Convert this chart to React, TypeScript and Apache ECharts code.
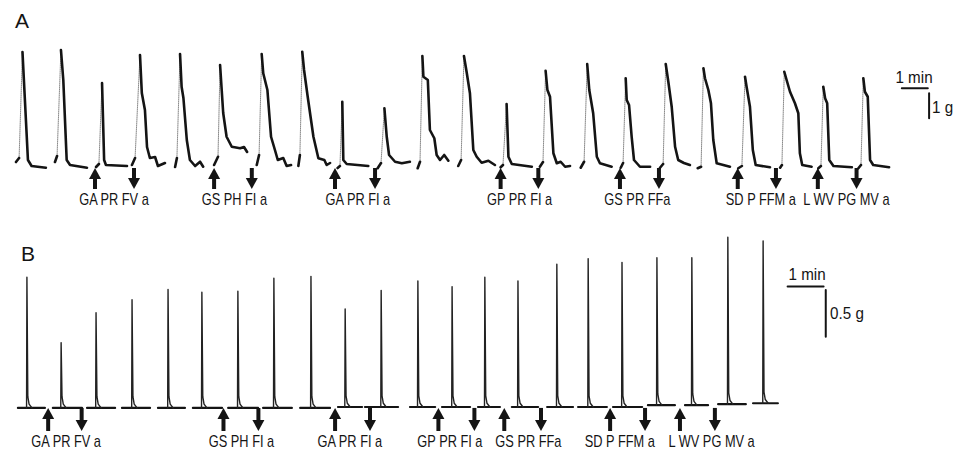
import React, { useEffect, useRef } from "react";
import * as echarts from "echarts";

// ---------- Panel A (1 g, 1 min scale) : each contraction = onset, hook, peak, decay points [min, g]
const contractionsA: number[][][] = [
  [[0.23, 0.16], [0.35, 0.32], [0.48, 4.56], [0.69, 0.24], [0.83, 0], [1.38, -0.07]],
  [[1.73, 0.16], [1.81, 0.4], [1.96, 4.64], [2.05, 3.44], [2.18, 0.24], [2.31, 0.04], [2.96, -0.07]],
  [[3.31, -0.04], [3.42, 0.08], [3.54, 3.32], [3.62, 0.24], [3.69, 0.04], [4.5, 0]],
  [[4.69, 0.04], [4.81, 0.32], [5.0, 4.44], [5.07, 2.92], [5.19, 2.24], [5.27, 0.76], [5.38, 0.32], [5.58, 0.36], [5.69, 0], [5.96, 0.12]],
  [[6.35, -0.04], [6.42, 0.32], [6.54, 4.48], [6.6, 3.17], [6.67, 2.72], [6.8, 1.04], [6.92, 0.24], [7.12, 0], [7.31, 0.17], [7.43, -0.03]],
  [[7.85, 0.04], [8.0, 0.37], [8.08, 4.04], [8.1, 3.72], [8.2, 2.12], [8.33, 1.17], [8.53, 0.77], [8.85, 0.71], [9.0, 0.76], [9.12, 0.56]],
  [[9.49, 0.04], [9.58, 0.44], [9.68, 4.48], [9.74, 3.71], [9.9, 3.04], [10.04, 1.17], [10.19, 0.64], [10.3, 0.24], [10.51, 0.32], [10.64, 0], [10.81, 0.04]],
  [[11.09, 0], [11.15, 0.44], [11.24, 4.57], [11.31, 3.84], [11.45, 2.77], [11.67, 1.17], [11.86, 0.31], [12.09, 0.24], [12.18, 0.04], [12.31, 0.12]],
  [[12.6, -0.08], [12.69, 0], [12.78, 2.57], [12.82, 0.24], [12.95, 0.08], [13.78, 0]],
  [[14.14, -0.09], [14.27, 0.12], [14.4, 2.31], [14.49, 1.17], [14.58, 0.44], [14.81, 0.17], [15.07, 0.11], [15.38, 0.17]],
  [[15.68, -0.09], [15.77, 0.17], [15.86, 4.4], [15.9, 3.57], [16.07, 3.44], [16.15, 1.44], [16.32, 1.11], [16.41, 0.44], [16.54, 0.24], [16.7, 0.44], [16.86, 0.21]],
  [[17.24, 0], [17.35, 0.24], [17.46, 4.4], [17.57, 3.71], [17.69, 2.91], [17.82, 0.64], [17.95, 0.37], [18.14, 0.13], [18.4, 0.21], [18.65, 0.04]],
  [[18.87, -0.05], [18.96, 0.04], [19.1, 2.48], [19.17, 0.37], [19.3, 0.08], [20.07, -0.03]],
  [[20.38, -0.03], [20.5, 0.16], [20.6, 3.81], [20.67, 3.04], [20.77, 2.77], [20.9, 0.51], [21.03, 0.11], [21.18, 0.17], [21.35, -0.03], [21.54, 0]],
  [[21.95, -0.07], [22.08, 0.17], [22.2, 4.08], [22.28, 3.04], [22.43, 2.11], [22.57, 0.37], [22.69, 0.11], [23.14, -0.03]],
  [[23.49, -0.07], [23.58, 0.12], [23.68, 3.51], [23.72, 2.64], [23.81, 2.44], [23.91, 1.17], [24.0, 0.24], [24.23, -0.03], [24.62, -0.03]],
  [[25.0, -0.07], [25.12, 0.08], [25.22, 4.08], [25.32, 3.37], [25.45, 2.37], [25.58, 0.77], [25.7, 0.24], [25.92, 0.12], [26.15, 0.04]],
  [[26.45, -0.09], [26.58, -0.03], [26.67, 3.91], [26.73, 3.51], [26.86, 3.04], [26.96, 2.51], [27.05, 1.04], [27.18, 0.11], [27.69, -0.03]],
  [[28.01, -0.09], [28.15, 0], [28.27, 3.57], [28.33, 3.17], [28.46, 2.37], [28.57, 0.64], [28.68, 0.04], [29.23, -0.05]],
  [[29.62, -0.07], [29.69, 0.04], [29.78, 3.77], [29.87, 3.44], [30.0, 2.97], [30.19, 2.51], [30.32, 2.11], [30.38, 0.51], [30.47, 0.04], [30.83, -0.03]],
  [[31.09, -0.09], [31.19, 0], [31.28, 3.17], [31.35, 2.71], [31.43, 2.51], [31.51, 0.24], [31.67, 0], [32.38, -0.05]],
  [[32.63, -0.09], [32.73, 0.04], [32.82, 3.51], [32.88, 2.97], [32.99, 2.77], [33.08, 0.24], [33.2, 0.04], [33.81, -0.05]],
];

const labelsA = ["GA PR FV a", "GS PH FI a", "GA PR FI a", "GP PR FI a", "GS PR FFa", "SD P FFM a", "L WV PG MV a"];
const aUpArrow = [3.27, 7.85, 12.5, 18.87, 23.46, 27.99, 31.07];
const aDownArrow = [4.77, 9.3, 14.04, 20.32, 24.96, 29.46, 32.56];
const aLabelTime = [4.0, 8.63, 13.38, 19.6, 24.13, 28.88, 32.17];
const aArrowLevels = [-0.08, -0.92]; // g
const aLabelLevel = -1.34;

// ---------- Panel B (0.5 g, 1 min scale)
const bSpikeTime = [0.47, 1.42, 2.39, 3.39, 4.39, 5.33, 6.33, 7.33, 8.36, 9.31, 10.31, 11.33, 12.28, 13.19, 14.11, 15.19, 16.06, 17.0, 17.97, 18.94, 19.94, 20.92];
const bSpikePeak = [1.39, 0.69, 1.01, 1.15, 1.26, 1.23, 1.24, 1.38, 1.4, 1.05, 1.25, 1.35, 1.29, 1.39, 1.35, 1.53, 1.59, 1.55, 1.6, 1.6, 1.82, 1.78];
const bSegStart = [0.22, 1.19, 2.14, 3.11, 4.11, 5.08, 6.06, 7.03, 8.06, 9.11, 9.86, 11.11, 12.0, 13.0, 13.94, 14.92, 15.78, 16.75, 17.72, 18.75, 19.67, 20.64];
const bSegEnd = [0.97, 2.0, 2.92, 3.89, 4.86, 5.89, 6.89, 7.83, 8.89, 9.78, 10.78, 11.81, 12.78, 13.61, 14.67, 15.64, 16.58, 17.56, 18.47, 19.39, 20.44, 21.33];
const bBaseline = [-0.01, -0.01, -0.01, -0.01, -0.01, -0.01, -0.01, -0.01, -0.01, 0, 0, 0, 0, 0, 0, 0, 0, 0, 0.02, 0.02, 0.03, 0.04];
const bSpikeTail = [[0.025, 0.12], [0.06, 0.04], [0.14, 0.0]]; // [min after peak, g above baseline]

const labelsB = ["GA PR FV a", "GS PH FI a", "GA PR FI a", "GP PR FI a", "GS PR FFa", "SD P FFM a", "L WV PG MV a"];
const bUpArrow = [1.06, 5.93, 9.03, 11.9, 13.73, 16.67, 18.61];
const bDownArrow = [1.99, 6.9, 10.0, 12.9, 14.75, 17.64, 19.58];
const bLabelTime = [1.56, 6.43, 9.44, 12.22, 14.4, 16.94, 19.49];
const bArrowLevels = [-0.01, -0.257];
const bLabelLevel = -0.37;

// scale bars: [time start, level] ; lengths 1 min / 1 g (A) and 1 min / 0.5 g (B)
const scaleA = { hT: 34.3, hG: 3.11, vT: 35.35, vG: 1.91, len: 1 };
const scaleB = { hT: 21.6, hG: 1.29, vT: 22.66, vG: 0.753, len: 0.5 };

const INK = "#141414";
const FONT = '"Liberation Sans", Arial, Helvetica, sans-serif';

type TextItem = { t: number; g: number; text: string; align: string; size: number; sx: number };

function textSeries(grid: number, items: TextItem[]) {
  return {
    type: "custom",
    xAxisIndex: grid,
    yAxisIndex: grid,
    silent: true,
    clip: false,
    data: items.map((it, i) => [it.t, it.g, i]),
    renderItem: (_p: any, api: any) => {
      const it = items[api.value(2)];
      const p = api.coord([api.value(0), api.value(1)]);
      return {
        type: "text",
        x: p[0],
        y: p[1],
        scaleX: it.sx,
        style: {
          text: it.text,
          fill: INK,
          font: `${it.size}px ${FONT}`,
          align: it.align,
          verticalAlign: "middle",
        },
      };
    },
  };
}

function arrowSeries(grid: number, ups: number[], downs: number[], levels: number[]) {
  const data = [
    ...ups.map((t) => [t, levels[0], levels[1], 1]),
    ...downs.map((t) => [t, levels[0], levels[1], -1]),
  ];
  return {
    type: "custom",
    xAxisIndex: grid,
    yAxisIndex: grid,
    silent: true,
    clip: false,
    data,
    renderItem: (_p: any, api: any) => {
      const t = api.value(0);
      const top = api.coord([t, api.value(1)]);
      const bot = api.coord([t, api.value(2)]);
      const x = top[0];
      const y0 = top[1];
      const y1 = bot[1];
      const hw = 6;
      const hh = 11;
      const sw = 2;
      const style = { fill: INK };
      if (api.value(3) > 0) {
        return {
          type: "group",
          children: [
            { type: "polygon", shape: { points: [[x, y0], [x + hw, y0 + hh], [x - hw, y0 + hh]] }, style },
            { type: "rect", shape: { x: x - sw, y: y0 + hh - 1, width: 2 * sw, height: y1 - y0 - hh + 1 }, style },
          ],
        };
      }
      return {
        type: "group",
        children: [
          { type: "rect", shape: { x: x - sw, y: y0, width: 2 * sw, height: y1 - y0 - hh + 1 }, style },
          { type: "polygon", shape: { points: [[x - hw, y1 - hh], [x + hw, y1 - hh], [x, y1]] }, style },
        ],
      };
    },
  };
}

function buildOption() {
  // Panel A traces
  const aSolid: any[] = [];
  const aRise: any[] = [];
  contractionsA.forEach((c) => {
    aSolid.push(c[0], c[1], [c[1][0], null]);
    for (let i = 2; i < c.length; i++) aSolid.push(c[i]);
    aSolid.push([c[c.length - 1][0], null]);
    aRise.push(c[1], c[2], [c[2][0], null]);
  });

  // Panel B traces
  const bBase: any[] = [];
  const bSpikes: any[] = [];
  bSpikeTime.forEach((t, i) => {
    const b = bBaseline[i];
    bBase.push([bSegStart[i], b], [bSegEnd[i], b], [bSegEnd[i], null]);
    bSpikes.push([t - 0.01, b], [t, bSpikePeak[i]]);
    bSpikeTail.forEach((p) => bSpikes.push([t + p[0], b + p[1]]));
    bSpikes.push([t + 0.2, null]);
  });

  const scaleLines = (s: typeof scaleA) => [
    [s.hT, s.hG], [s.hT + 1, s.hG], [s.hT + 1, null],
    [s.vT, s.vG], [s.vT, s.vG + s.len],
  ];

  const line = (grid: number, data: any[], width: number, color: string, type = "solid") => ({
    type: "line",
    xAxisIndex: grid,
    yAxisIndex: grid,
    data,
    symbol: "none",
    silent: true,
    clip: false,
    connectNulls: false,
    lineStyle: { width, color, type, cap: "round", join: "round" },
  });

  const textsA: TextItem[] = [
    ...labelsA.map((s, i) => ({ t: aLabelTime[i], g: aLabelLevel, text: s, align: "center", size: 16, sx: 0.8 })),
    { t: 34.77, g: 3.56, text: "1 min", align: "center", size: 16, sx: 0.95 },
    { t: 35.46, g: 2.34, text: "1 g", align: "left", size: 16, sx: 0.95 },
  ];
  const textsB: TextItem[] = [
    ...labelsB.map((s, i) => ({ t: bLabelTime[i], g: bLabelLevel, text: s, align: "center", size: 16, sx: 0.8 })),
    { t: 22.14, g: 1.425, text: "1 min", align: "center", size: 16, sx: 0.95 },
    { t: 22.78, g: 1.007, text: "0.5 g", align: "left", size: 16, sx: 0.95 },
  ];

  const hiddenAxis = (min: number, max: number, grid: number) => ({
    type: "value",
    min,
    max,
    gridIndex: grid,
    show: false,
  });

  return {
    animation: false,
    backgroundColor: "#ffffff",
    title: [
      { text: "A", left: 10, top: 5, textStyle: { fontSize: 21, fontWeight: "normal", color: INK, fontFamily: FONT } },
      { text: "B", left: 16, top: 238, textStyle: { fontSize: 21, fontWeight: "normal", color: INK, fontFamily: FONT } },
    ],
    grid: [
      { left: 10, top: 16, width: 936, height: 200 },
      { left: 10, top: 220.33, width: 936, height: 233.33 },
    ],
    xAxis: [hiddenAxis(0, 36, 0), hiddenAxis(0, 26, 1)],
    yAxis: [hiddenAxis(-2, 6, 0), hiddenAxis(-0.5, 2, 1)],
    series: [
      line(0, aRise, 1, "#8a8a8a", "dotted"),
      line(0, aSolid, 2.6, INK),
      line(0, scaleLines(scaleA), 2, INK),
      arrowSeries(0, aUpArrow, aDownArrow, aArrowLevels),
      textSeries(0, textsA),
      line(1, bBase, 2.2, INK),
      line(1, bSpikes, 1.4, "#222"),
      line(1, scaleLines(scaleB), 2, INK),
      arrowSeries(1, bUpArrow, bDownArrow, bArrowLevels),
      textSeries(1, textsB),
    ],
  };
}

export default function App() {
  const ref = useRef<HTMLDivElement>(null);
  useEffect(() => {
    if (!ref.current) return;
    const chart = echarts.init(ref.current, undefined, { renderer: "svg" });
    chart.setOption(buildOption() as any);
    return () => chart.dispose();
  }, []);
  return (
    <div
      ref={ref}
      style={{ position: "absolute", left: 0, top: 0, width: 967, height: 454, background: "#fff" }}
    />
  );
}
